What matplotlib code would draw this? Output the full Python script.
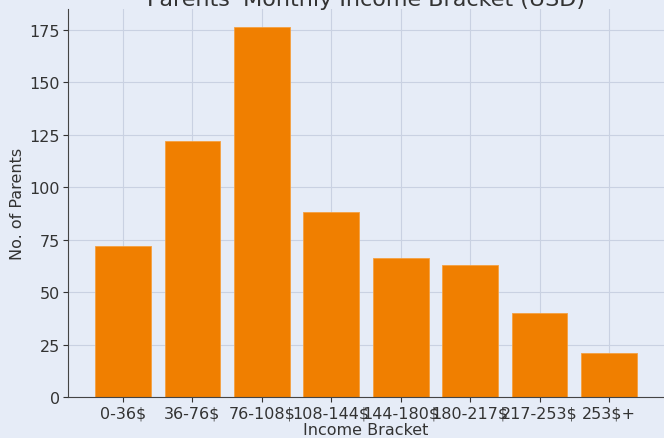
import matplotlib
matplotlib.use('Agg')
import matplotlib.pyplot as plt

# income brackets and counts
brackets = ['0-36$', '36-76$', '76-108$', '108-144$', '144-180$', '180-217$', '217-253$', '253$+']
parents = [72, 122, 176, 88, 66, 63, 40, 21]

bg = '#e6ecf7'
fig = plt.figure(figsize=(6.64, 4.39), dpi=100, facecolor=bg)
ax = fig.add_axes([68/664, 41/439, 596/664, 388/439])
ax.set_facecolor(bg)

ax.set_axisbelow(True)
ax.grid(True, color='#c9d1e2', linewidth=0.8)
ax.bar(brackets, parents, width=0.8, color='#f07f00', edgecolor='#f5a040', linewidth=0.6)

ax.set_title("Parents' Monthly Income Bracket (USD)", fontsize=16, color='#333333', pad=1)
ax.set_xlabel('Income Bracket', fontsize=11.5, color='#333333', labelpad=1)
ax.set_ylabel('No. of Parents', fontsize=11.5, color='#333333', labelpad=3)
ax.set_yticks([0, 25, 50, 75, 100, 125, 150, 175])
ax.tick_params(colors='#333333', labelsize=11.5, pad=2.5)

for side in ['top', 'right']:
    ax.spines[side].set_visible(False)
for side in ['left', 'bottom']:
    ax.spines[side].set_color('#444444')

fig.savefig('out.png', dpi=100, facecolor=bg)
